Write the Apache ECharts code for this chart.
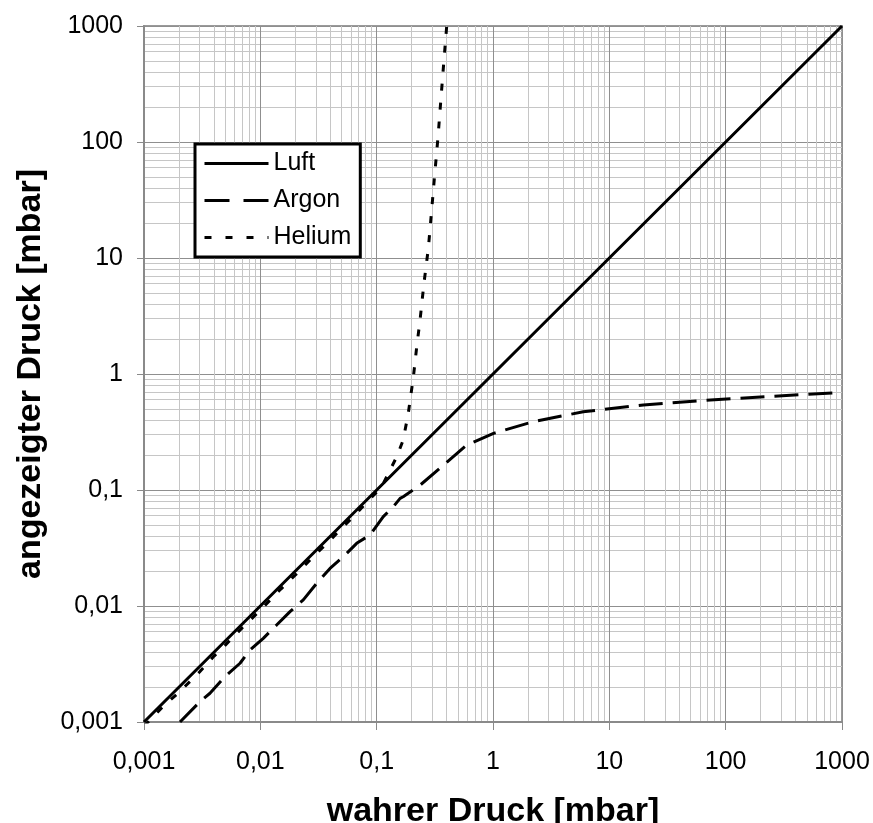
<!DOCTYPE html>
<html>
<head>
<meta charset="utf-8">
<script src="https://cdn.jsdelivr.net/npm/echarts@6/dist/echarts.min.js"></script>
<style>
  html, body { margin: 0; padding: 0; background: #fff; }
  #chart { width: 873px; height: 823px; }
</style>
</head>
<body>
<div id="chart"></div>
<script>
// Decade tick labels (German decimal comma)
const tickLabels = ['0,001', '0,01', '0,1', '1', '10', '100', '1000'];

// Luft: displayed pressure equals true pressure
const luftTrue  = [0.001, 0.01, 0.1, 1, 10, 100, 1000];
const luftShown = [0.001, 0.01, 0.1, 1, 10, 100, 1000];

// Argon: reads low, saturates below 1 mbar
const argonTrue  = [0.00204, 0.00303, 0.00369, 0.00497, 0.00669, 0.00815, 0.0106, 0.0138, 0.018, 0.0234,
                    0.0305, 0.0397, 0.0517, 0.0673, 0.0877, 0.114, 0.139, 0.159, 0.169, 0.236,
                    0.35, 0.594, 1.01, 2.22, 5.97, 19.6, 60.2, 225, 1000];
const argonShown = [0.001, 0.0015, 0.00177, 0.00246, 0.00321, 0.00418, 0.00526, 0.00686, 0.00894, 0.0113,
                    0.0157, 0.0211, 0.0266, 0.0347, 0.041, 0.0589, 0.0718, 0.0847, 0.0875, 0.110,
                    0.154, 0.244, 0.308, 0.388, 0.473, 0.541, 0.589, 0.637, 0.695];

// Helium: close to Luft at low pressure, runs away above ~0.1 mbar
const heliumTrue  = [0.001, 0.0015, 0.002, 0.003, 0.004, 0.005, 0.007, 0.01, 0.015, 0.02,
                     0.03, 0.04, 0.05, 0.06, 0.07, 0.08, 0.09, 0.1, 0.107, 0.122,
                     0.149, 0.169, 0.187, 0.207, 0.221, 0.236, 0.255, 0.278, 0.297, 0.316,
                     0.337, 0.357, 0.377, 0.4];
const heliumShown = [0.00092, 0.0014, 0.0018, 0.0027, 0.0037, 0.0046, 0.0065, 0.0092, 0.014, 0.0185,
                     0.028, 0.037, 0.047, 0.056, 0.066, 0.076, 0.086, 0.096, 0.1, 0.13,
                     0.194, 0.27, 0.458, 0.948, 1.72, 2.92, 6.05, 12.1, 25.9, 53.7,
                     111, 238, 477, 1000];

const pairs = (xs, ys) => xs.map((x, i) => [x, ys[i]]);

const FONT = 'Liberation Sans, Arial, Helvetica, sans-serif';
const AXIS_GRAY = '#8a8a8a';
const NONE = 'rgba(0,0,0,0)';

const decadeLabel = v => tickLabels[Math.round(Math.log10(v)) + 3];

function logAxis(name, extra) {
  return Object.assign({
    type: 'log',
    logBase: 10,
    min: 0.001,
    max: 1000,
    name: name,
    nameLocation: 'middle',
    nameTextStyle: { fontFamily: FONT, fontSize: 34, fontWeight: 'bold', color: '#000', lineHeight: 34 },
    axisLine: { show: true, lineStyle: { color: AXIS_GRAY, width: 2 } },
    axisTick: { show: true, inside: false, length: 8, lineStyle: { color: AXIS_GRAY, width: 1 } },
    splitLine: { show: true, lineStyle: { color: '#8f8f8f', width: 1 } },
    minorTick: { show: false, splitNumber: 9 },
    minorSplitLine: { show: true, lineStyle: { color: '#c6c6c6', width: 1 } }
  }, extra);
}

const chart = echarts.init(document.getElementById('chart'), null, { renderer: 'canvas' });
chart.setOption({
  backgroundColor: '#fff',
  animation: false,
  grid: {
    left: 144, top: 26, right: 31, bottom: 101,
    outerBoundsMode: 'none',
    containLabel: false,
    show: true, borderColor: '#9a9a9a', borderWidth: 2, backgroundColor: '#fff'
  },
  legend: {
    orient: 'vertical',
    left: 195, top: 144,
    data: [
      { name: 'Luft', lineStyle: { width: 3, type: 'solid' } },
      { name: 'Argon', lineStyle: { width: 3, type: [25, 14] } },
      { name: 'Helium', lineStyle: { width: 3, type: [7, 14] } }
    ],
    itemWidth: 64, itemHeight: 14, itemGap: 12,
    padding: [7, 9, 7, 8],
    borderColor: '#000', borderWidth: 3, backgroundColor: '#fff',
    itemStyle: { color: NONE, borderColor: NONE, borderWidth: 0 },
    textStyle: { fontFamily: FONT, fontSize: 25, color: '#000', lineHeight: 25 }
  },
  xAxis: logAxis('wahrer Druck [mbar]', {
    nameGap: 73,
    axisLabel: {
      fontFamily: FONT, fontSize: 25, color: '#000', margin: 28,
      showMinLabel: true, showMaxLabel: true,
      formatter: decadeLabel
    }
  }),
  yAxis: logAxis('angezeigter Druck [mbar]', {
    nameGap: 96,
    axisTick: { show: true, inside: false, length: 7, lineStyle: { color: AXIS_GRAY, width: 1 } },
    axisLabel: {
      fontFamily: FONT, fontSize: 25, color: '#000', margin: 21,
      showMinLabel: true, showMaxLabel: true,
      formatter: decadeLabel
    }
  }),
  series: [
    {
      name: 'Luft', type: 'line', symbol: 'none', showSymbol: false,
      data: pairs(luftTrue, luftShown),
      lineStyle: { color: '#000', width: 3, type: 'solid' },
      itemStyle: { color: NONE }
    },
    {
      name: 'Argon', type: 'line', symbol: 'none', showSymbol: false,
      data: pairs(argonTrue, argonShown),
      lineStyle: { color: '#000', width: 3, type: [24, 10], cap: 'butt' },
      itemStyle: { color: NONE }
    },
    {
      name: 'Helium', type: 'line', symbol: 'none', showSymbol: false,
      data: pairs(heliumTrue, heliumShown),
      lineStyle: { color: '#000', width: 3, type: [7, 12], cap: 'butt' },
      itemStyle: { color: NONE }
    }
  ]
});
</script>
</body>
</html>
